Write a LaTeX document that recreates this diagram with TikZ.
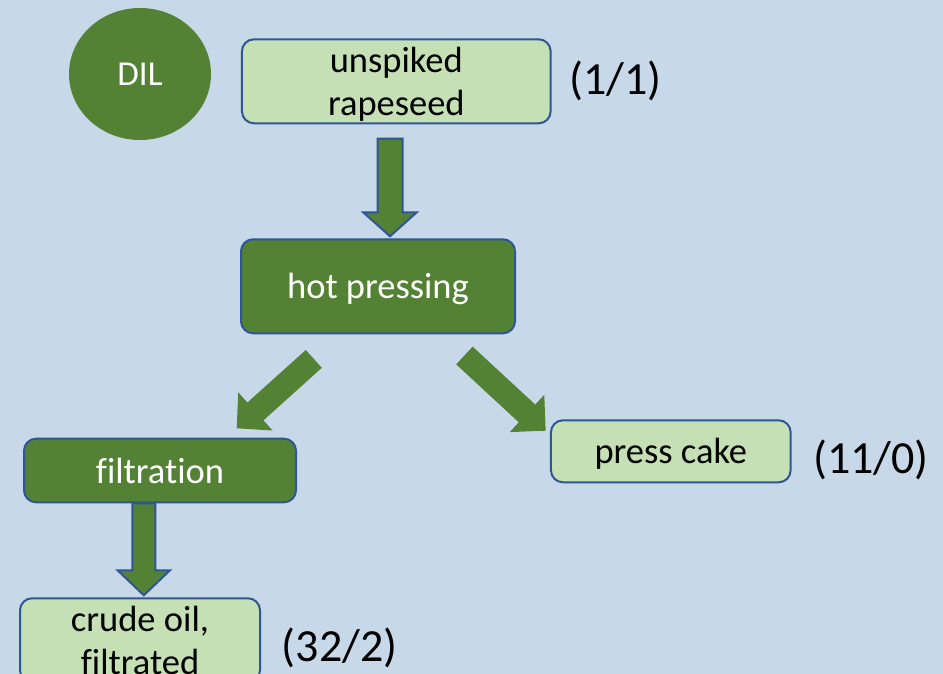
\documentclass[tikz,border=0pt]{standalone}
\usepackage{fontspec}
\setmainfont{Carlito}[Ligatures=CommonOff]
\usetikzlibrary{calc,shapes.geometric}
\definecolor{bg}{RGB}{199,217,232}
\definecolor{dkgreen}{RGB}{84,130,53}
\definecolor{ltgreen}{RGB}{197,224,180}
\definecolor{edgeblue}{RGB}{47,85,151}
% block arrow: [style]{tail}{tip}{shaft half width}{head half width}{head length}
\newcommand{\blockarrow}[6][]{%
  \path #2 coordinate (bas) #3 coordinate (bat);
  \path ($(bat)!#6!(bas)$) coordinate (bac);
  \draw[#1] ($(bas)!#4!90:(bat)$) -- ($(bac)!#4!90:(bat)$) -- ($(bac)!#5!90:(bat)$)
    -- (bat) -- ($(bac)!#5!-90:(bat)$) -- ($(bac)!#4!-90:(bat)$)
    -- ($(bas)!#4!-90:(bat)$) -- cycle;}
\begin{document}
\begin{tikzpicture}[x=1pt,y=-1pt,
  box/.style={rectangle, rounded corners=12pt, line width=2pt, draw=edgeblue,
    align=center, inner sep=0pt, text depth=0pt, font=\fontsize{36.5}{43}\selectfont},
  lightbox/.style={box, fill=ltgreen, text=black},
  darkbox/.style={box, fill=dkgreen, text=white},
  count/.style={anchor=base west, inner sep=0pt, font=\fontsize{46}{50}\selectfont},
  dilnode/.style={ellipse, fill=dkgreen, text=white, inner sep=0pt,
    minimum width=142pt, minimum height=132pt, font=\fontsize{35}{40}\selectfont},
  outlinearrow/.style={fill=dkgreen, draw=edgeblue, line width=2pt, line join=miter},
  plainarrow/.style={fill=dkgreen, draw=none}]
\useasboundingbox (0,0) rectangle (943,674);
\clip (0,0) rectangle (943,674);
\fill[bg] (0,0) rectangle (943,674);

\node[dilnode] (dil) at (140,74) {DIL};
\node[lightbox, minimum width=308.7pt, minimum height=84pt] (rape) at (396.3,81.3) {unspiked\\rapeseed};
\node[darkbox, minimum width=274pt, minimum height=94pt] (hot) at (378,286.3) {hot pressing};
\node[darkbox, minimum width=272pt, minimum height=63.6pt] (filt) at (160,470.5) {filtration};
\node[lightbox, minimum width=239.7pt, minimum height=62pt] (cake) at (670.8,451.3) {press cake};
\node[lightbox, minimum width=240pt, minimum height=84pt] (crude) at (140,640.3) {crude oil,\\filtrated};

\node[count] (c1) at (569,95) {(1/1)};
\node[count] (c2) at (813,473) {(11/0)};
\node[count] (c3) at (281.7,661) {(32/2)};

\blockarrow[outlinearrow]{($(rape.south)+(-6.3,14.4)$)}{($(hot.north)+(12,-2)$)}{12.5pt}{26.8pt}{24pt}
\blockarrow[outlinearrow]{($(filt.south)+(-16.2,0)$)}{($(crude.north)+(3.8,-2)$)}{11.5pt}{26.2pt}{25pt}
\blockarrow[plainarrow]{($(hot.south)+(-64.2,24.6)$)}{($(filt.north)+(76.7,-9.4)$)}{12pt}{25.7pt}{25.2pt}
\blockarrow[plainarrow]{($(hot.south)+(86.4,21.2)$)}{($(cake.north west)+(-4.3,11.4)$)}{12.1pt}{25.4pt}{25.4pt}
\end{tikzpicture}
\end{document}
